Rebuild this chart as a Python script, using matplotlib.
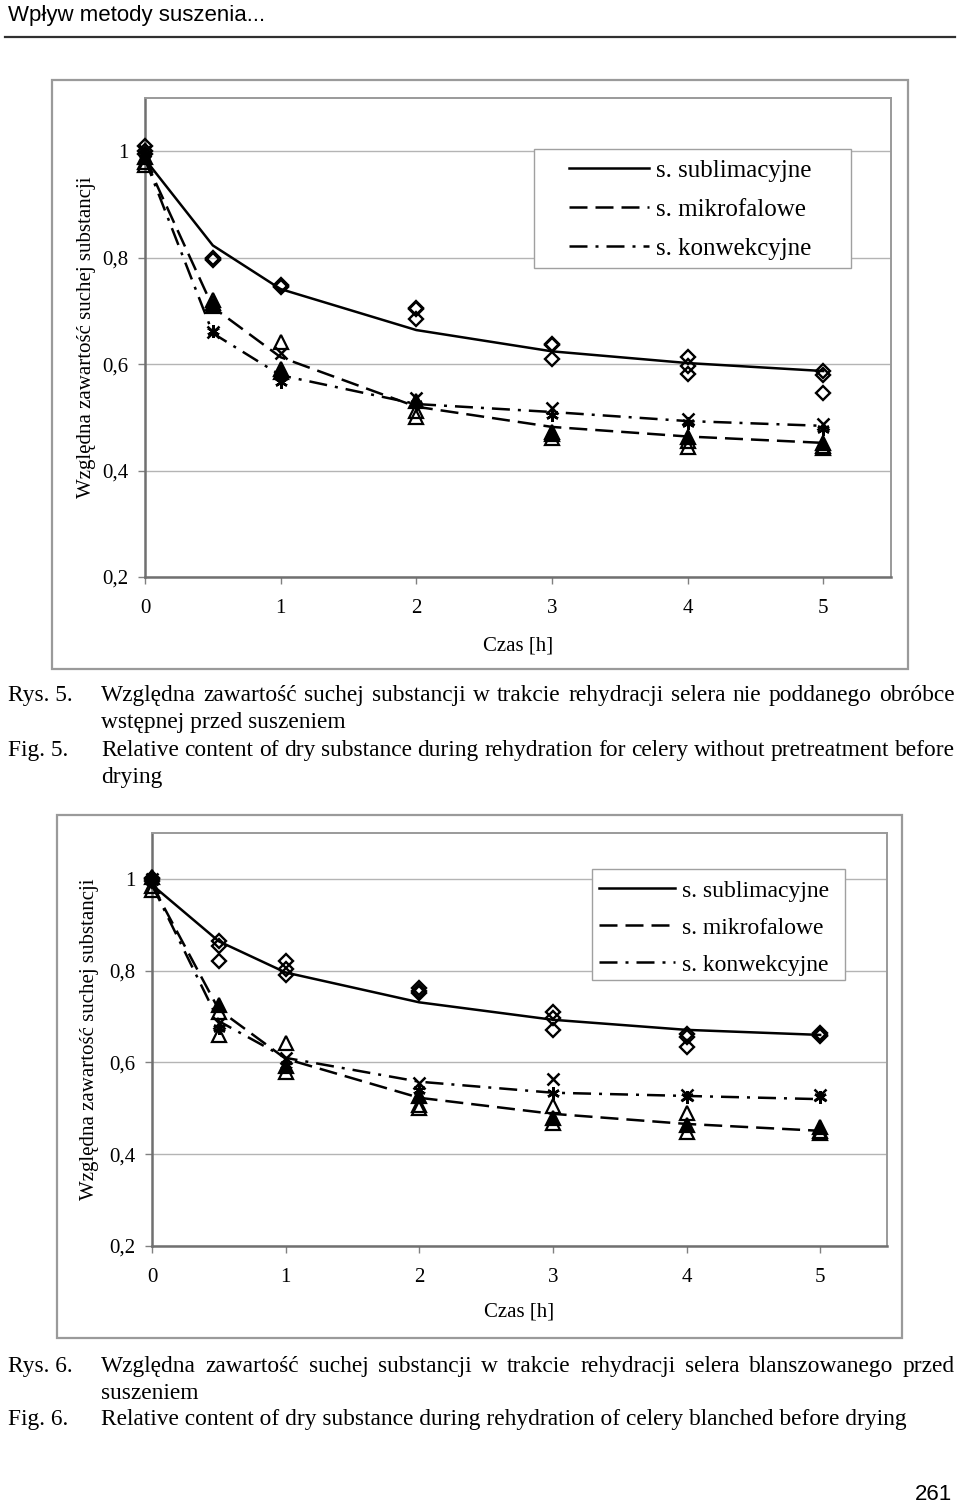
import matplotlib

matplotlib.use("Agg")
import matplotlib.pyplot as plt
from matplotlib.lines import Line2D
from matplotlib.patches import Rectangle

SERIF = "Liberation Serif"
SANS = "Liberation Sans"
W, H = 960, 1504

# time points [h]
HOURS = [0, 0.5, 1, 2, 3, 4, 5]
METHODS = ["s. sublimacyjne", "s. mikrofalowe", "s. konwekcyjne"]
Y_TICKS = [0.2, 0.4, 0.6, 0.8, 1.0]
Y_TICK_LABELS = ["0,2", "0,4", "0,6", "0,8", "1"]
X_TICKS = [0, 1, 2, 3, 4, 5]

# Rys. 5 - celery without pretreatment
FIT5_SUB = [0.985, 0.823, 0.741, 0.664, 0.624, 0.602, 0.587]
FIT5_MIK = [0.985, 0.707, 0.613, 0.520, 0.482, 0.464, 0.452]
FIT5_KON = [0.985, 0.658, 0.579, 0.525, 0.510, 0.493, 0.484]
REP5_SUB = [
    [1.010, 0.800, 0.748, 0.705, 0.638, 0.613, 0.587],
    [1.000, 0.795, 0.745, 0.685, 0.610, 0.596, 0.580],
    [0.995, 0.798, 0.747, 0.703, 0.636, 0.581, 0.545],
]
REP5_MIK = [
    [0.975, 0.720, 0.641, 0.500, 0.461, 0.444, 0.442],
    [0.990, 0.710, 0.585, 0.530, 0.472, 0.463, 0.452],
    [0.980, 0.715, 0.590, 0.512, 0.468, 0.455, 0.446],
]
REP5_KON = [
    [1.000, 0.660, 0.620, 0.536, 0.517, 0.497, 0.487],
    [0.995, 0.662, 0.566, 0.525, 0.505, 0.490, 0.478],
]

# Rys. 6 - blanched celery
FIT6_SUB = [0.987, 0.864, 0.796, 0.731, 0.693, 0.671, 0.660]
FIT6_MIK = [0.987, 0.715, 0.608, 0.523, 0.488, 0.466, 0.451]
FIT6_KON = [0.987, 0.690, 0.610, 0.558, 0.534, 0.527, 0.520]
REP6_SUB = [
    [1.003, 0.864, 0.820, 0.762, 0.709, 0.662, 0.665],
    [1.000, 0.853, 0.803, 0.752, 0.697, 0.656, 0.660],
    [0.995, 0.820, 0.790, 0.755, 0.671, 0.634, 0.658],
]
REP6_MIK = [
    [0.976, 0.660, 0.642, 0.501, 0.504, 0.490, 0.446],
    [1.005, 0.726, 0.592, 0.526, 0.479, 0.464, 0.460],
    [0.985, 0.711, 0.580, 0.508, 0.468, 0.449, 0.450],
]
REP6_KON = [
    [1.000, 0.686, 0.610, 0.555, 0.564, 0.529, 0.529],
    [0.995, 0.675, 0.595, 0.540, 0.534, 0.525, 0.525],
]

CAPTIONS = [
    ("Rys. 5.", "Względna zawartość suchej substancji w trakcie rehydracji selera nie poddanego obróbce", True, 701),
    ("", "wstępnej przed suszeniem", False, 728),
    ("Fig. 5.", "Relative content of dry substance during rehydration for celery without pretreatment before", True, 756),
    ("", "drying", False, 783),
    ("Rys. 6.", "Względna zawartość suchej substancji w trakcie rehydracji selera blanszowanego przed", True, 1372),
    ("", "suszeniem", False, 1399),
    ("Fig. 6.", "Relative content of dry substance during rehydration of celery blanched before drying", False, 1425),
]
CAPTION_SIZE = 16.8

LINE_STYLES = [
    dict(linestyle="-"),
    dict(dashes=(7.2, 3.2)),
    dict(dashes=(7.2, 3.2, 1.2, 3.2)),
]


def fx(x):
    return x / W


def fy(y):
    return 1 - y / H


def draw_panel(fig, box, frame, legend_box, legend_anchor, legend_size, handle_px,
               fits, subs, miks, kons, ylabel_x, xlabel_y):
    left, top, right, bottom = box
    fig.add_artist(Rectangle((fx(frame[0]), fy(frame[3])), (frame[2] - frame[0]) / W,
                             (frame[3] - frame[1]) / H, transform=fig.transFigure,
                             fill=False, ec="#9a9a9a", lw=1.6, zorder=0))
    ax = fig.add_axes([fx(left), fy(bottom), (right - left) / W, (bottom - top) / H])
    ax.set_xlim(0, 5.5)
    ax.set_ylim(0.2, 1.1)

    ax.set_yticks(Y_TICKS)
    ax.set_yticklabels(Y_TICK_LABELS)
    ax.set_xticks(X_TICKS)
    ax.set_xticklabels([str(t) for t in X_TICKS])
    ax.tick_params(axis="y", length=5, width=1, color="#808080", pad=7,
                   labelsize=15, labelfontfamily=SERIF)
    ax.tick_params(axis="x", length=5, width=1, color="#808080", pad=11,
                   labelsize=15, labelfontfamily=SERIF)
    ax.grid(axis="y", color="#b4b4b4", lw=1)
    ax.set_axisbelow(True)
    for side in ("top", "right"):
        ax.spines[side].set_color("#9a9a9a")
        ax.spines[side].set_linewidth(1.4)
    for side in ("left", "bottom"):
        ax.spines[side].set_color("#707070")
        ax.spines[side].set_linewidth(1.8)

    for fit, style in zip(fits, LINE_STYLES):
        ax.plot(HOURS, fit, color="black", lw=1.8, **style, zorder=3)

    for rep in subs:
        ax.plot(HOURS, rep, ls="none", marker="D", ms=7.5, mfc="none", mec="black",
                mew=1.7, zorder=4, clip_on=False)
    for i, rep in enumerate(miks):
        ax.plot(HOURS, rep, ls="none", marker="^", ms=10,
                mfc="black" if i == 1 else "none", mec="black", mew=1.6, zorder=4,
                clip_on=False)
    for i, rep in enumerate(kons):
        ax.plot(HOURS, rep, ls="none", marker="x" if i == 0 else (6, 2, 0), ms=9,
                mec="black", mew=1.8, zorder=4, clip_on=False)

    ax.set_xlabel("Czas [h]", fontsize=15, family=SERIF)
    ax.set_ylabel("Względna zawartość suchej substancji", fontsize=15, family=SERIF)
    ax.xaxis.set_label_coords(0.5, -(xlabel_y - bottom) / (bottom - top))
    ax.yaxis.set_label_coords((ylabel_x - left) / (right - left), 0.5)

    lx0, ly0, lx1, ly1 = legend_box
    ax.add_patch(Rectangle((fx(lx0), fy(ly1)), (lx1 - lx0) / W, (ly1 - ly0) / H,
                           transform=fig.transFigure, fc="white", ec="#a0a0a0",
                           lw=1, zorder=4.5, clip_on=False))
    handles = [Line2D([], [], color="black", lw=1.8, **s) for s in LINE_STYLES]
    font_px = legend_size * 100 / 72
    ax.legend(handles, METHODS, loc="upper left",
              bbox_to_anchor=(fx(legend_anchor[0]), fy(legend_anchor[1])),
              bbox_transform=fig.transFigure, frameon=False, borderpad=0,
              borderaxespad=0, handlelength=handle_px / font_px,
              handletextpad=7 / font_px, labelspacing=0.66,
              prop=dict(family=SERIF, size=legend_size))
    return ax


def justified(fig, text, x0, x1, y, size):
    renderer = fig.canvas.get_renderer()
    words = text.split()
    items = [fig.text(0, fy(y), w, fontsize=size, family=SERIF, va="baseline")
             for w in words]
    widths = [t.get_window_extent(renderer).width for t in items]
    gap = (x1 - x0 - sum(widths)) / (len(words) - 1)
    x = x0
    for t, w in zip(items, widths):
        t.set_x(fx(x))
        x += w + gap


fig = plt.figure(figsize=(W / 100, H / 100), dpi=100)

fig.text(fx(8), fy(15), "Wpływ metody suszenia...", fontsize=16, family=SANS,
         va="center", ha="left")
fig.add_artist(Line2D([fx(5), fx(955)], [fy(37), fy(37)], color="#303030", lw=1.6,
                      transform=fig.transFigure))

draw_panel(fig, (145, 98, 891, 577), (52, 80, 908, 669), (534, 149, 851, 268),
           (569, 159), 18, 80, [FIT5_SUB, FIT5_MIK, FIT5_KON],
           REP5_SUB, REP5_MIK, REP5_KON, 96, 636)
draw_panel(fig, (152, 833, 887, 1246), (57, 815, 902, 1338), (592, 869, 845, 980),
           (599, 880), 17, 76, [FIT6_SUB, FIT6_MIK, FIT6_KON],
           REP6_SUB, REP6_MIK, REP6_KON, 99, 1303)

for label, text, justify, y in CAPTIONS:
    if label:
        fig.text(fx(8), fy(y), label, fontsize=CAPTION_SIZE, family=SERIF, va="baseline")
    if justify:
        justified(fig, text, 101, 955, y, CAPTION_SIZE)
    else:
        fig.text(fx(101), fy(y), text, fontsize=CAPTION_SIZE, family=SERIF, va="baseline")

fig.text(fx(952), fy(1494), "261", fontsize=16, family=SANS, va="center", ha="right")

fig.savefig("out.png", dpi=100)
